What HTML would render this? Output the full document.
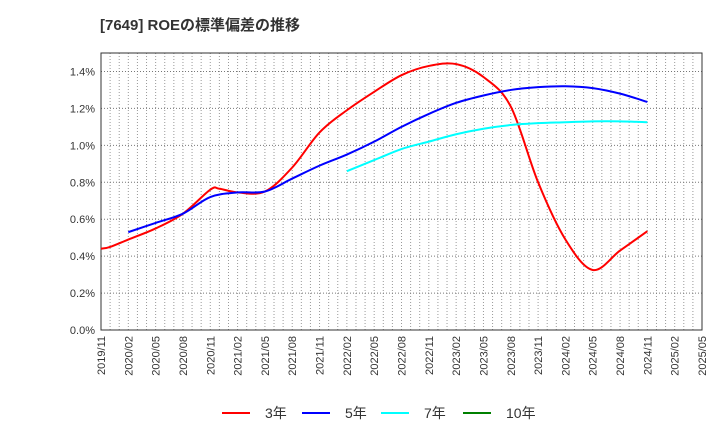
<!DOCTYPE html>
<html><head><meta charset="utf-8"><style>
body{margin:0;background:#fff;font-family:"Liberation Sans","Noto Sans CJK JP",sans-serif;}
</style></head><body>
<svg id="c" width="720" height="440" font-family="Liberation Sans, Noto Sans CJK JP, sans-serif">
<text x="100" y="30" font-size="15" font-weight="bold" fill="#333">[7649]  ROEの標準偏差の推移</text>
<g id="grid"></g><g id="axes"></g><g id="series"></g><g id="legend"></g>
</svg>
<script>
const ticks=["2019/11","2020/02","2020/05","2020/08","2020/11","2021/02","2021/05","2021/08","2021/11","2022/02","2022/05","2022/08","2022/11","2023/02","2023/05","2023/08","2023/11","2024/02","2024/05","2024/08","2024/11","2025/02","2025/05"];
const yTicks=[0,0.2,0.4,0.6,0.8,1.0,1.2,1.4];
const m3=[0,1,3,6,9,12,13,15,18,21,24,27,30,33,36,39,42,45,48,51,54,57,60];
const v3=[0.44,0.45,0.49,0.55,0.63,0.76,0.765,0.745,0.75,0.88,1.07,1.19,1.29,1.38,1.43,1.44,1.37,1.21,0.80,0.49,0.325,0.43,0.535];
const m5=[3,6,9,12,15,18,21,24,27,30,33,36,39,42,45,48,51,54,57,60];
const v5=[0.53,0.58,0.63,0.72,0.745,0.75,0.82,0.89,0.95,1.02,1.10,1.17,1.23,1.27,1.30,1.315,1.32,1.31,1.28,1.235];
const m7=[27,30,33,36,39,42,45,48,51,54,57,60];
const v7=[0.86,0.92,0.98,1.02,1.06,1.09,1.11,1.12,1.125,1.13,1.13,1.125];
const L=101,R=702,T=53,B=330,NM=66,YMAX=1.5;
const X=m=>L+(R-L)*m/NM, Y=v=>B-(B-T)*v/YMAX;
const NS="http://www.w3.org/2000/svg";
function mk(p,t,a){const e=document.createElementNS(NS,t);for(const k in a)e.setAttribute(k,a[k]);p.appendChild(e);return e;}
const g=document.getElementById('grid'),ax=document.getElementById('axes'),s=document.getElementById('series'),lg=document.getElementById('legend');
for(let m=1;m<NM;m++){const e=mk(g,'line',{x1:X(m),x2:X(m),y1:T,y2:B,stroke:'#999','stroke-width':1,'stroke-dasharray':'1,2'});

}
yTicks.forEach(v=>{if(v>0){const e=mk(g,'line',{x1:L,x2:R,y1:Y(v),y2:Y(v),stroke:'#777','stroke-width':1,'stroke-dasharray':'1,2'});

}
const t=mk(ax,'text',{x:L-6,y:Y(v)+4,'text-anchor':'end','font-size':11,fill:'#333'});t.textContent=v.toFixed(1)+'%';

});
ticks.forEach((lab,i)=>{const x=X(i*3);const t=mk(ax,'text',{transform:`translate(${x+4},336) rotate(-90)`,'text-anchor':'end','font-size':11,fill:'#333'});t.textContent=lab;

});
const fr=mk(ax,'rect',{x:L,y:T,width:R-L,height:B-T,fill:'none',stroke:'#333','stroke-width':1});


function path(ms,vs){let d='';const P=ms.map((m,i)=>[X(m),Y(vs[i])]);
d='M'+P[0][0]+','+P[0][1];
for(let i=0;i<P.length-1;i++){const p0=P[i-1]||P[i],p1=P[i],p2=P[i+1],p3=P[i+2]||p2;
d+=` C${p1[0]+(p2[0]-p0[0])/6},${p1[1]+(p2[1]-p0[1])/6} ${p2[0]-(p3[0]-p1[0])/6},${p2[1]-(p3[1]-p1[1])/6} ${p2[0]},${p2[1]}`;}return d;}
[[m3,v3,'#ff0000','series-3yr'],[m5,v5,'#0000ff','series-5yr'],[m7,v7,'#00ffff','series-7yr']].forEach(([m,v,c,n])=>{
const e=mk(s,'path',{d:path(m,v),fill:'none',stroke:c,'stroke-width':2});

});
[['3年','#ff0000',222],['5年','#0000ff',302],['7年','#00ffff',381],['10年','#008000',463]].forEach(([t,c,x])=>{
const l=mk(lg,'line',{x1:x,x2:x+28,y1:413,y2:413,stroke:c,'stroke-width':2});


const tx=mk(lg,'text',{x:x+43,y:418,'font-size':14,fill:'#333'});tx.textContent=t;

});
</script>
</body></html>
